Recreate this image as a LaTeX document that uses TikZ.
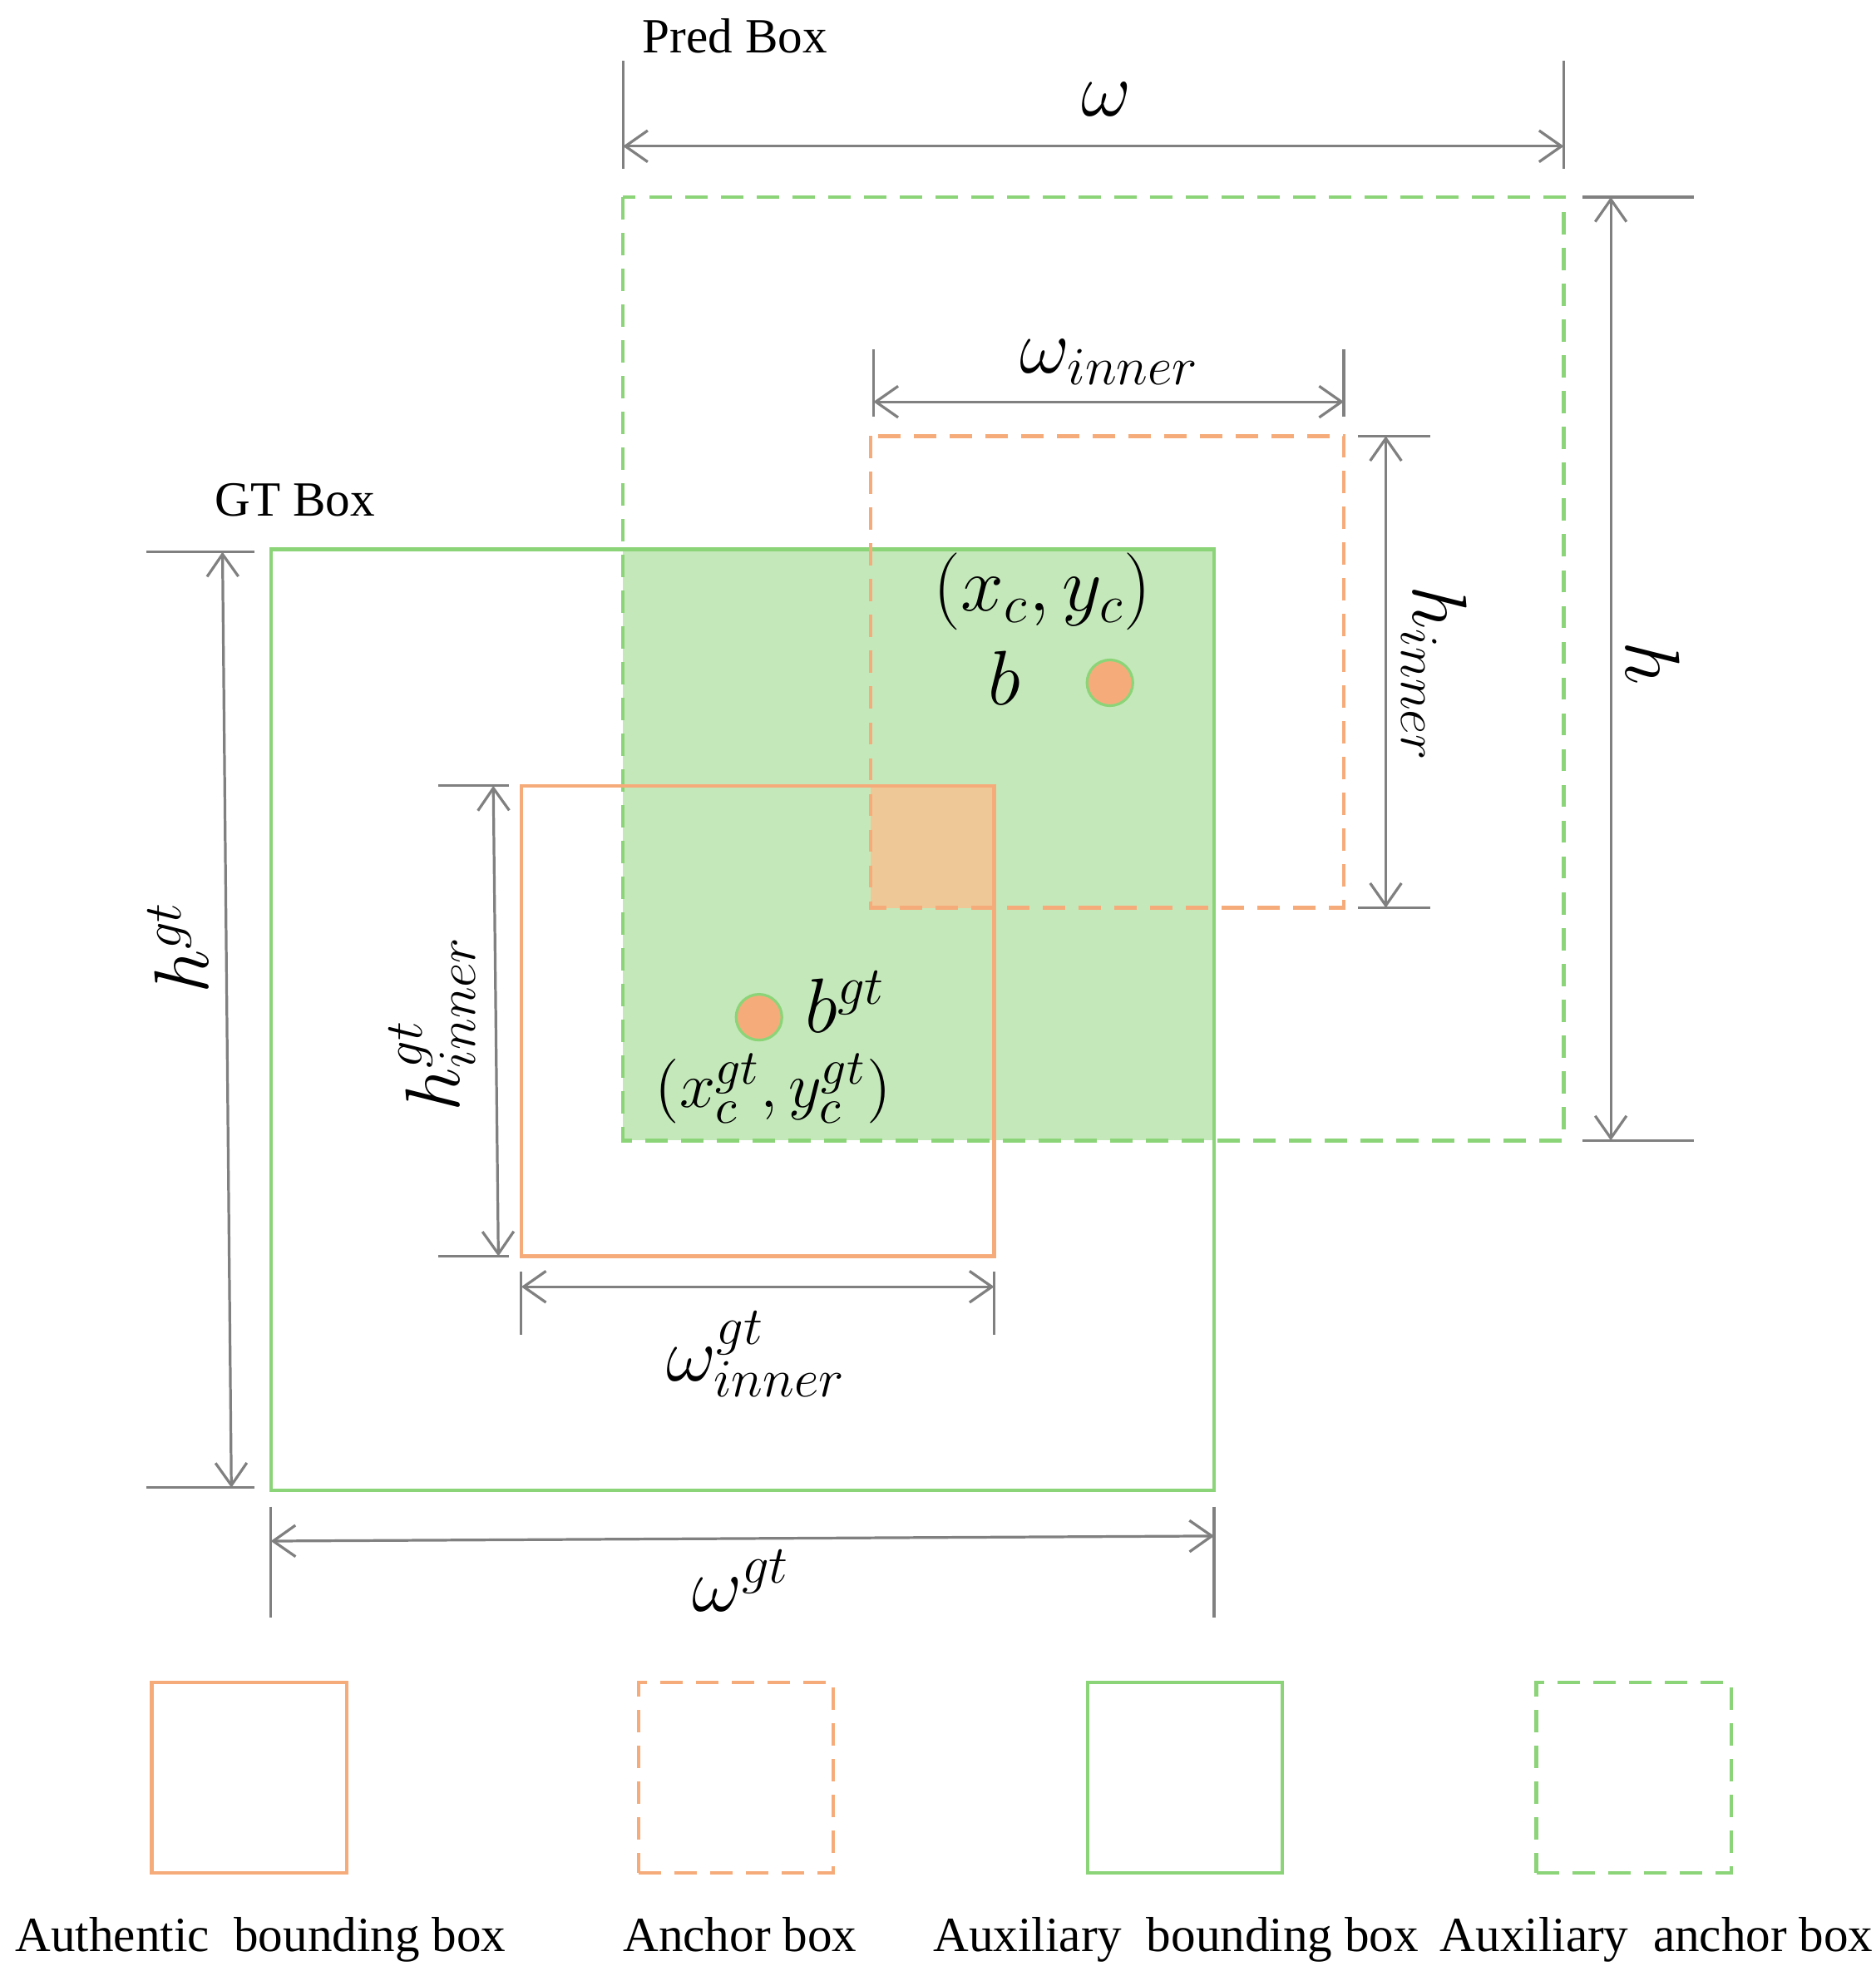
\documentclass[tikz,border=0pt]{standalone}
\usepackage{fontspec}
\setmainfont{Liberation Serif}
\usetikzlibrary{arrows.meta,positioning}
\definecolor{boxgreen}{RGB}{140,212,120}
\definecolor{fillgreen}{RGB}{196,232,186}
\definecolor{boxorange}{RGB}{246,172,122}
\definecolor{fillorange}{RGB}{238,200,150}
\tikzset{
  auth/.style={draw=boxorange, line width=0.8pt},
  anchor box/.style={draw=boxorange, line width=0.8pt, dash pattern=on 5pt off 3pt},
  aux/.style={draw=boxgreen, line width=0.8pt},
  aux anchor/.style={draw=boxgreen, line width=0.8pt, dash pattern=on 5pt off 3pt},
  ext/.style={draw=gray, line width=0.6pt},
  dim/.style={draw=gray, line width=0.6pt, {Straight Barb[length=5pt,width=7pt]}-{Straight Barb[length=5pt,width=7pt]}},
  lbl/.style={font=\fontsize{18}{21}\selectfont},
  txt/.style={font=\fontsize{11}{13}\selectfont},
  legend/.style={minimum width=1.53cm, minimum height=1.5cm, inner sep=0pt}
}
\begin{document}
\begin{tikzpicture}[x=0.01cm, y=-0.01cm]
\useasboundingbox (0,0) rectangle (1475,1558);
% fills
\fill[fillgreen] (490,432) rectangle (955,897);
\fill[fillorange] (685,618) rectangle (782,714);
% boxes
\draw[aux anchor] (490,155) rectangle (1230,897);
\draw[aux] (213,432) rectangle (955,1172);
\draw[anchor box] (685,343) rectangle (1057,714);
\draw[auth] (410,618) rectangle (782,988);
% centres
\fill[boxorange] (873,537) circle (18);
\draw[boxgreen, line width=0.6pt] (873,537) circle (18);
\fill[boxorange] (597,800) circle (18);
\draw[boxgreen, line width=0.6pt] (597,800) circle (18);
% omega
\draw[ext] (490,48) -- (490,133) (1230,48) -- (1230,133);
\coordinate (wL) at (490,115); \coordinate (wR) at (1230,115);
\draw[dim] (wL) -- (wR);
\node[lbl] at (870,78) {$\omega$};
\node[txt] at (578,28) {Pred Box};
% h
\draw[ext] (1245,155) -- (1332,155) (1245,897) -- (1332,897);
\coordinate (hT) at (1267,155); \coordinate (hB) at (1267,897);
\draw[dim] (hT) -- (hB);
\node[lbl, rotate=-90] at (1300,522) {$h$};
% omega inner
\draw[ext] (687,275) -- (687,328) (1057,275) -- (1057,328);
\coordinate (wiL) at (687,316); \coordinate (wiR) at (1057,316);
\draw[dim] (wiL) -- (wiR);
\node[lbl] at (873,285) {$\omega_{inner}$};
% h inner
\draw[ext] (1068,343) -- (1125,343) (1068,714) -- (1125,714);
\coordinate (hiT) at (1090,343); \coordinate (hiB) at (1090,714);
\draw[dim] (hiT) -- (hiB);
\node[lbl, rotate=-90] at (1128,530) {$h_{inner}$};
% h gt
\node[txt] at (232,393) {GT Box};
\draw[ext] (115,434) -- (200,434) (115,1170) -- (200,1170);
\coordinate (hgT) at (175,434); \coordinate (hgB) at (182,1170);
\draw[dim] (hgT) -- (hgB);
\node[lbl, rotate=90] at (140,745) {$h^{gt}$};
% h gt inner
\draw[ext] (345,618) -- (400,618) (345,988) -- (400,988);
\coordinate (hgiT) at (388,618); \coordinate (hgiB) at (392,988);
\draw[dim] (hgiT) -- (hgiB);
\node[lbl, rotate=90] at (340,805) {$h^{gt}_{inner}$};
% omega gt inner
\draw[ext] (410,1000) -- (410,1050) (782,1000) -- (782,1050);
\coordinate (wgiL) at (410,1012); \coordinate (wgiR) at (782,1012);
\draw[dim] (wgiL) -- (wgiR);
\node[lbl] at (595,1065) {$\omega^{gt}_{inner}$};
% omega gt
\draw[ext] (213,1185) -- (213,1272) (955,1185) -- (955,1272);
\coordinate (wgL) at (213,1212); \coordinate (wgR) at (955,1208);
\draw[dim] (wgL) -- (wgR);
\node[lbl] at (583,1243) {$\omega^{gt}$};
% centre labels
\node[lbl] at (820,465) {$(x_c,y_c)$};
\node[lbl] at (790,533) {$b$};
\node[lbl] at (665,788) {$b^{gt}$};
\node[font=\fontsize{15}{18}\selectfont] at (608,856) {$(x_c^{gt},y_c^{gt})$};
% legend
\node[legend, auth] (lg1) at (196,1398) {};
\node[legend, anchor box] (lg2) at (579,1398) {};
\node[legend, aux] (lg3) at (932,1398) {};
\node[legend, aux anchor] (lg4) at (1285,1398) {};
\node[txt, anchor=base] at (205,1535) {Authentic\ \ bounding box};
\node[txt, anchor=base] at (582,1535) {Anchor box};
\node[txt, anchor=base] at (925,1535) {Auxiliary\ \ bounding box};
\node[txt, anchor=base] at (1303,1535) {Auxiliary\ \ anchor box};
\end{tikzpicture}
\end{document}
